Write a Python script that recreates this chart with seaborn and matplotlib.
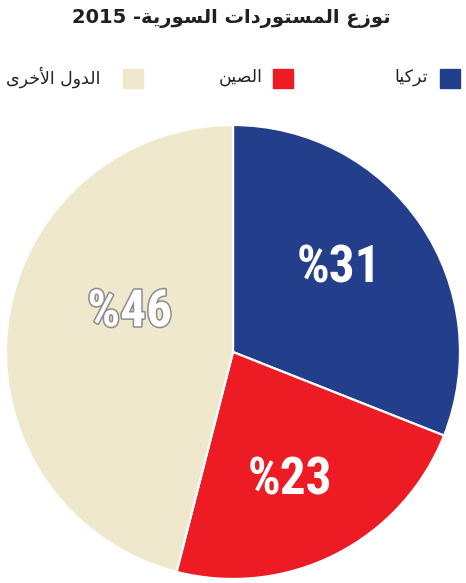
import matplotlib
matplotlib.use('Agg')
import matplotlib.pyplot as plt
import matplotlib.patheffects as pe
from matplotlib.patches import Rectangle
import seaborn as sns

# البيانات
countries = ['تركيا', 'الصين', 'الدول الأخرى']
shares = [31, 23, 46]
pct_labels = ['%31', '%23', '%46']
colors = ['#233f8c', '#ed1c24', '#efe8cd']
title = 'توزع المستوردات السورية'
year = '2015'

# matplotlib لا يشكل الحروف العربية، نكتبها بأشكال العرض يدويا
FORMS = {
    'ا': ('\uFE8D', '\uFE8E', None, None),
    'أ': ('\uFE83', '\uFE84', None, None),
    'ت': ('\uFE95', '\uFE96', '\uFE97', '\uFE98'),
    'و': ('\uFEED', '\uFEEE', None, None),
    'ز': ('\uFEAF', '\uFEB0', None, None),
    'ع': ('\uFEC9', '\uFECA', '\uFECB', '\uFECC'),
    'ل': ('\uFEDD', '\uFEDE', '\uFEDF', '\uFEE0'),
    'م': ('\uFEE1', '\uFEE2', '\uFEE3', '\uFEE4'),
    'س': ('\uFEB1', '\uFEB2', '\uFEB3', '\uFEB4'),
    'ر': ('\uFEAD', '\uFEAE', None, None),
    'د': ('\uFEA9', '\uFEAA', None, None),
    'ي': ('\uFEF1', '\uFEF2', '\uFEF3', '\uFEF4'),
    'ة': ('\uFE93', '\uFE94', None, None),
    'ك': ('\uFED9', '\uFEDA', '\uFEDB', '\uFEDC'),
    'ص': ('\uFEB9', '\uFEBA', '\uFEBB', '\uFEBC'),
    'ن': ('\uFEE5', '\uFEE6', '\uFEE7', '\uFEE8'),
    'خ': ('\uFEA5', '\uFEA6', '\uFEA7', '\uFEA8'),
    'ى': ('\uFEEF', '\uFEF0', None, None),
}
LAM_ALEF = {'ا': ('\uFEFB', '\uFEFC', None, None), 'أ': ('\uFEF7', '\uFEF8', None, None)}


def shape(text):
    units = []
    i = 0
    while i < len(text):
        c = text[i]
        if c == 'ل' and i + 1 < len(text) and text[i + 1] in LAM_ALEF:
            units.append(LAM_ALEF[text[i + 1]])
            i += 2
            continue
        units.append(FORMS.get(c, c))
        i += 1
    out = []
    for k, u in enumerate(units):
        if isinstance(u, str):
            out.append(u)
            continue
        prev = units[k - 1] if k > 0 else None
        nxt = units[k + 1] if k + 1 < len(units) else None
        jp = isinstance(prev, tuple) and prev[2] is not None
        jn = u[2] is not None and isinstance(nxt, tuple)
        if jp and jn:
            out.append(u[3])
        elif jp:
            out.append(u[1])
        elif jn:
            out.append(u[2])
        else:
            out.append(u[0])
    return ''.join(out)[::-1]


sns.set_theme(style='white')
plt.rcParams['font.family'] = ['DejaVu Sans']

W, H = 466, 583
fig = plt.figure(figsize=(W / 100, H / 100), dpi=100)
r = 1.01
ax = fig.add_axes([(233 - 227 * r) / W, (H - 352 - 227 * r) / H,
                   454 * r / W, 454 * r / H])

wedges, _ = ax.pie(shares, colors=colors, startangle=90, counterclock=False,
                   radius=1, wedgeprops=dict(edgecolor='white', linewidth=1.6))
ax.set_xlim(-r, r)
ax.set_ylim(-r, r)
ax.axis('off')

# مواضع النسب داخل القطاعات
label_pos = [(0.465, 0.37), (0.25, -0.565), (-0.455, 0.175)]
for (x, y), txt, i in zip(label_pos, pct_labels, range(3)):
    t = ax.text(x, y, txt, ha='center', va='center', color='white',
                fontsize=37, fontweight='bold',
                family=['Roboto Condensed', 'DejaVu Sans'])
    if i == 2:
        t.set_path_effects([pe.withStroke(linewidth=2.2, foreground='#8c8c8c')])

fig.text(231 / W, 1 - 18 / H, year + ' -' + shape(title), ha='center', va='center',
         fontsize=14, fontweight='bold', color='#231f20')

# وسيلة الإيضاح: المربع يمين النص
text_right = [428, 263, 100]
box_left = [440, 273, 123]
for name, col, tx, bx in zip(countries, colors, text_right, box_left):
    fig.patches.append(Rectangle((bx / W, 1 - 88 / H), 20 / W, 19 / H,
                                 transform=fig.transFigure, color=col))
    fig.text(tx / W, 1 - 77 / H, shape(name), ha='right', va='center',
             fontsize=12.5, color='#231f20')

fig.savefig('out.png', dpi=100)
